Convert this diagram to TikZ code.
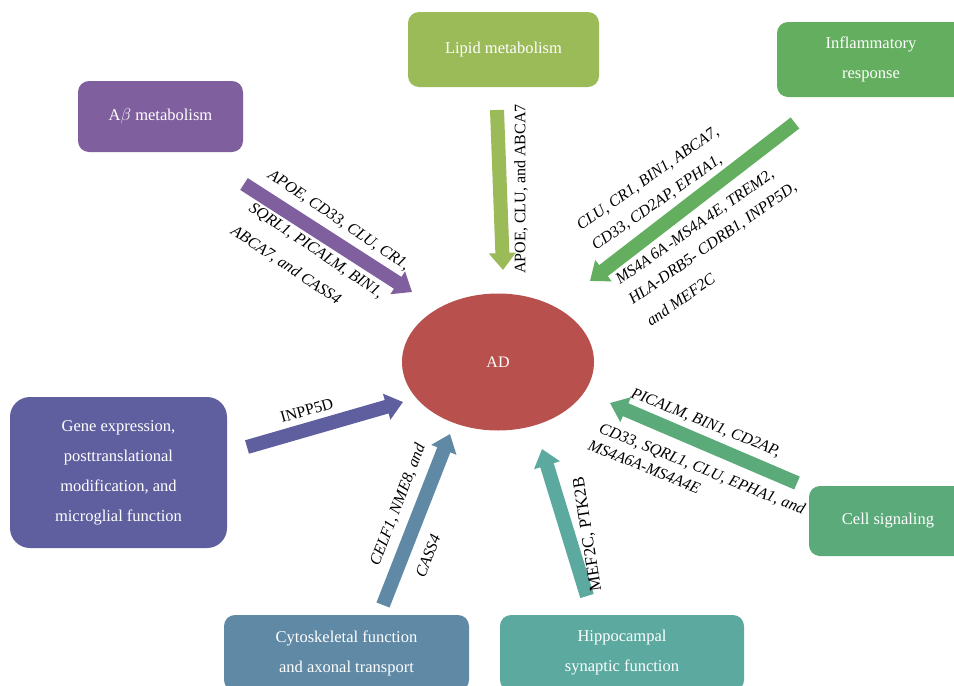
\documentclass[tikz,border=0pt]{standalone}
\usepackage{fontspec}
\setmainfont{Liberation Serif}
\usepackage{tikz}
\usetikzlibrary{positioning}
\usetikzlibrary{arrows.meta}
\usetikzlibrary{shapes.geometric}

\definecolor{abetacol}{HTML}{7F5F9D}
\definecolor{lipidcol}{HTML}{9BBB59}
\definecolor{inflamcol}{HTML}{63AF5F}
\definecolor{genecol}{HTML}{5F5F9F}
\definecolor{signalcol}{HTML}{5BAA79}
\definecolor{cytocol}{HTML}{5F89A5}
\definecolor{hippocol}{HTML}{5BA99F}
\definecolor{adcol}{HTML}{B8504D}

\tikzset{
    box/.style={rounded corners=11pt, text=white, align=center, inner sep=0pt,
        font=\fontsize{16.5}{30}\selectfont},
    flow/.style={line width=14pt, -{Triangle[length=17pt,width=26pt]}},
    genes/.style={inner sep=0pt, font=\fontsize{16}{26}\selectfont\itshape},
    genesup/.style={inner sep=0pt, font=\fontsize{16}{26}\selectfont},
}

\begin{document}
\begin{tikzpicture}[x=1pt,y=-1pt]
    \clip (0,0) rectangle (954,686);
    \fill[white] (0,0) rectangle (954,686);

    % centre
    \node[ellipse, fill=adcol, text=white, inner sep=0pt, minimum width=192pt,
        minimum height=137pt, font=\fontsize{16}{18}\selectfont] (AD) at (498,362) {AD};

    % pathway boxes
    \node[box, fill=abetacol, minimum width=165pt, minimum height=71pt] (abeta) at (160.5,116.5) {A$\beta$ metabolism};
    \node[box, fill=lipidcol, minimum width=191pt, minimum height=75pt] (lipid) at (503.5,49.5) {Lipid metabolism};
    \node[box, fill=inflamcol, minimum width=188pt, minimum height=75pt] (inflam) at (871,59.5) {Inflammatory\\response};
    \node[box, fill=genecol, rounded corners=20pt, minimum width=217pt, minimum height=151pt] (gene) at (118.5,472.5)
        {Gene expression,\\posttranslational\\modification, and\\microglial function};
    \node[box, fill=signalcol, minimum width=158pt, minimum height=70pt] (signal) at (888,521) {Cell signaling};
    \node[box, fill=cytocol, minimum width=245pt, minimum height=76pt] (cyto) at (346.5,653) {Cytoskeletal function\\and axonal transport};
    \node[box, fill=hippocol, minimum width=244pt, minimum height=76pt] (hippo) at (622,653) {Hippocampal\\synaptic function};

    % arrow ends
    \coordinate (abetaT) at (244,184);
    \coordinate (abetaH) at (412,292);
    \coordinate (lipidT) at (497,110);
    \coordinate (lipidH) at (503,270);
    \coordinate (inflamT) at (795,123);
    \coordinate (inflamH) at (590,281);
    \coordinate (geneT) at (247,447);
    \coordinate (geneH) at (403,402);
    \coordinate (cytoT) at (383,605);
    \coordinate (cytoH) at (450,434);
    \coordinate (hippoT) at (587,596);
    \coordinate (hippoH) at (542,449);
    \coordinate (signalT) at (797,483);
    \coordinate (signalH) at (610,403);

    \draw[flow, abetacol] (abetaT) -- (abetaH);
    \draw[flow, lipidcol] (lipidT) -- (lipidH);
    \draw[flow, inflamcol] (inflamT) -- (inflamH);
    \draw[flow, genecol] (geneT) -- (geneH);
    \draw[flow, cytocol] (cytoT) -- (cytoH);
    \draw[flow, hippocol] (hippoT) -- (hippoH);
    \draw[flow, signalcol] (signalT) -- (signalH);

    % gene lists
    \node[genes, rotate=-34, anchor=base west] (abetaA) at (267,177) {APOE, CD33, CLU, CR1,};
    \node[genes, rotate=-34, anchor=base west] (abetaB) at (248,210) {SQRL1, PICALM, BIN1,};
    \node[genes, rotate=-34, anchor=base west] (abetaC) at (230,233) {ABCA7, and CASS4};

    \node[genesup, rotate=90] (lipidA) at (521,189) {APOE, CLU, and ABCA7};

    \node[genes, rotate=35, anchor=base west] (inflamA) at (581,231) {CLU, CR1, BIN1, ABCA7,};
    \node[genes, rotate=35, anchor=base west] (inflamB) at (596,251) {CD33, CD2AP, EPHA1,};
    \node[genes, rotate=35, anchor=base west] (inflamC) at (620,285) {MS4A\,6A\,-MS4A\,4E, TREM2,};
    \node[genes, rotate=35, anchor=base west] (inflamD) at (633,305) {HLA-DRB5- CDRB1, INPP5D,};
    \node[genes, rotate=35, anchor=base west] (inflamE) at (651,327) {and MEF2C};

    \node[genesup, rotate=16, anchor=base west] (geneA) at (282,423) {INPP5D};

    \node[genes, rotate=69] (cytoA) at (398,505) {CELF1, NME8, and};
    \node[genes, rotate=69] (cytoB) at (428,556) {CASS4};

    \node[genesup, rotate=99, font=\fontsize{17}{20}\selectfont] (hippoA) at (588,534) {MEF2C, PTK2B};

    \node[genes, rotate=-22, anchor=base west] (signalA) at (630,397) {PICALM, BIN1, CD2AP,};
    \node[genes, rotate=-22, anchor=base west] (signalB) at (598,432) {CD33, SQRL1, CLU, EPHA1, and};
    \node[genes, rotate=-22, anchor=base west] (signalC) at (587,449) {MS4A6A-MS4A4E};
\end{tikzpicture}
\end{document}
